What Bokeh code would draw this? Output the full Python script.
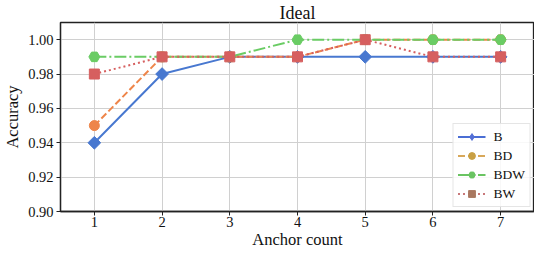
from bokeh.plotting import figure
from bokeh.models import Legend, LegendItem, FixedTicker, NumeralTickFormatter, Range1d
from bokeh.embed import file_html
from bokeh.resources import INLINE
import numpy as np

anchors = [1, 2, 3, 4, 5, 6, 7]
acc_B = [0.94, 0.98, 0.99, 0.99, 0.99, 0.99, 0.99]
acc_BD = [0.95, 0.99, 0.99, 0.99, 1.00, 1.00, 1.00]
acc_BDW = [0.99, 0.99, 0.99, 1.00, 1.00, 1.00, 1.00]
acc_BW = [0.98, 0.99, 0.99, 0.99, 1.00, 0.99, 0.99]
series_names = ["B", "BD", "BDW", "BW"]
y_ticks = [0.90, 0.92, 0.94, 0.96, 0.98, 1.00]

FONT = "Liberation Serif"

p = figure(width=534, height=251, output_backend="svg", toolbar_location=None,
           x_range=Range1d(0.5, 7.5), y_range=Range1d(0.90, 1.01),
           min_border=0, min_border_left=50, min_border_right=0, min_border_top=19, min_border_bottom=30)

p.title.text = "Ideal"
p.title.align = "center"
p.title.text_font = FONT
p.title.text_font_size = "18px"
p.title.text_font_style = "normal"
p.title.text_color = "#111111"
p.title.standoff = 0

p.outline_line_color = "#222222"
p.outline_line_width = 1.3
p.background_fill_color = "white"
p.border_fill_color = "white"

for ax in (p.xaxis[0], p.yaxis[0]):
    ax.axis_line_color = "#222222"
    ax.axis_line_width = 1.3
    ax.major_tick_line_color = "#222222"
    ax.major_tick_in = 0
    ax.major_tick_out = 4
    ax.minor_tick_line_color = None
    ax.major_label_text_font = FONT
    ax.major_label_text_font_size = "14.5px"
    ax.major_label_text_color = "#111111"
    ax.axis_label_text_font = FONT
    ax.axis_label_text_font_size = "16.5px"
    ax.axis_label_text_font_style = "normal"
    ax.axis_label_text_color = "#111111"
    ax.major_label_standoff = 3
    ax.axis_label_standoff = 3

p.xaxis.major_label_standoff = 1
p.xaxis.axis_label_standoff = 0

p.xaxis.ticker = FixedTicker(ticks=anchors)
p.yaxis.ticker = FixedTicker(ticks=y_ticks)
p.yaxis.formatter = NumeralTickFormatter(format="0.00")
p.xaxis.axis_label = "Anchor count"
p.yaxis.axis_label = "Accuracy"

p.grid.grid_line_color = "#d0d0d0"
p.grid.grid_line_width = 1

colors = ["#4878d0", "#ee854a", "#6acc64", "#d65f5f"]
legend_colors = ["#5470d6", "#c9a044", "#6ac462", "#a97860"]
legend_line_colors = ["#4a6ed4", "#d8a85a", "#6ac462", "#c8787a"]
dashes = ["solid", "7 3", "12 3 2 3", "2 3"]
values = [acc_B, acc_BD, acc_BDW, acc_BW]
markers = ["square", "circle", "hex", "square"]
sizes = [9, 10, 11, 10]
angles = [np.pi / 4, 0, 0, 0]
legend_markers = ["diamond", "circle", "hex", "square"]
legend_sizes = [14, 10, 10, 10]

for vals, c, d, m, s, a in zip(values, colors, dashes, markers, sizes, angles):
    p.line(anchors, vals, line_color=c, line_width=2, line_dash=d)
    p.scatter(anchors, vals, marker=m, size=s, angle=a, fill_color=c, line_color=c, line_width=1)

items = []
for name, lc, mc, d, m, s in zip(series_names, legend_line_colors, legend_colors, dashes, legend_markers, legend_sizes):
    r1 = p.line([np.nan, np.nan], [np.nan, np.nan], line_color=lc, line_width=2, line_dash=d)
    r2 = p.scatter([np.nan], [np.nan], marker=m, size=s, fill_color=mc, line_color=mc)
    items.append(LegendItem(label=name, renderers=[r1, r2]))

legend = Legend(items=items, location="bottom_right",
                label_text_font=FONT, label_text_font_size="13.5px", label_text_color="#111111",
                glyph_width=28, glyph_height=17, label_height=17, label_standoff=8,
                spacing=2, padding=4, margin=4,
                border_line_color="#cccccc", border_line_width=1,
                background_fill_color="white", background_fill_alpha=0.85)
p.add_layout(legend)

open("out.html", "w").write(file_html(p, INLINE))
